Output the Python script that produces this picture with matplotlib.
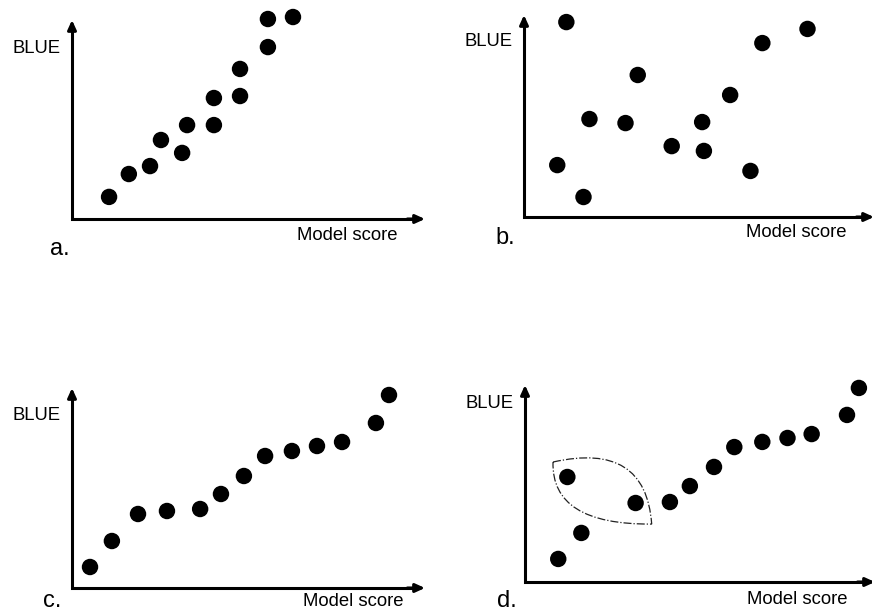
import matplotlib
matplotlib.use("Agg")
import matplotlib.pyplot as plt
from matplotlib.path import Path
from matplotlib.patches import PathPatch

plt.rcParams['font.family'] = ['Liberation Sans', 'DejaVu Sans']

# scores (0-100 = length of each axis arrow)
a_score = [10.5, 16.1, 22.1, 25.2, 31.2, 32.6, 40.2, 40.2, 47.6, 47.6, 55.5, 55.5, 62.6]
a_blue = [11.1, 22.6, 26.6, 39.7, 33.2, 47.2, 47.2, 60.8, 61.8, 75.4, 86.4, 100.5, 101.5]

b_score = [12.1, 81.0, 68.1, 32.5, 58.9, 18.7, 29.0, 50.9, 42.2, 51.4, 9.5, 64.7, 17.0]
b_blue = [96.5, 93.1, 86.1, 70.3, 60.4, 48.5, 46.5, 47.0, 35.1, 32.7, 25.7, 22.8, 9.9]

c_score = [5.1, 11.3, 18.7, 26.9, 36.3, 42.2, 48.7, 54.7, 62.3, 69.4, 76.5, 86.1, 89.8]
c_blue = [10.5, 23.5, 37.0, 38.5, 39.5, 47.0, 56.0, 66.0, 68.5, 71.0, 73.0, 82.5, 96.5]

d_score = [9.5, 16.1, 12.1, 31.6, 41.4, 47.1, 54.0, 59.8, 67.8, 75.0, 81.9, 92.0, 95.4]
d_blue = [11.7, 24.9, 53.3, 40.1, 40.6, 48.7, 58.4, 68.5, 71.1, 73.1, 75.1, 84.8, 98.5]

# outlier ring in panel d: corner, control, corner, control
lens_x = [8.0, 34.5, 36.2, 7.5]
lens_y = [60.9, 71.5, 29.4, 29.0]

panels = ["a.", "b.", "c.", "d."]
xlabel = "Model score"
ylabel = "BLUE"

W, H = 872, 611
# axis origin (px), arrow lengths (px), text offsets (px)
layout = [
    dict(o=(72, 219), w=353, h=199, blue=33, ms=(28, 21), let=(22, 36)),
    dict(o=(524, 217), w=350, h=202, blue=31, ms=(27, 20), let=(29, 27)),
    dict(o=(72, 588), w=353, h=200, blue=32, ms=(22, 18), let=(29, 19)),
    dict(o=(525, 582), w=350, h=197, blue=23, ms=(28, 22), let=(28, 25)),
]

data = [(a_score, a_blue), (b_score, b_blue), (c_score, c_blue), (d_score, d_blue)]

fig = plt.figure(figsize=(W / 100, H / 100), dpi=100)

for i, (xs, ys) in enumerate(data):
    L = layout[i]
    ox, oy = L["o"]
    ax = fig.add_axes([ox / W, 1 - oy / H, L["w"] / W, L["h"] / H])
    ax.set_xlim(0, 100)
    ax.set_ylim(0, 100)
    ax.axis("off")

    # axes as arrows
    ax.plot([0, 0, 97], [97, 0, 0], color="black", lw=2.2,
            solid_joinstyle="miter", solid_capstyle="butt", clip_on=False)
    for tip, tail in [((100, 0), (95, 0)), ((0, 100), (0, 95))]:
        ax.annotate("", xy=tip, xytext=tail,
                    arrowprops=dict(arrowstyle="-|>,head_length=0.55,head_width=0.25",
                                    color="black", lw=2.2, shrinkA=0, shrinkB=0),
                    annotation_clip=False)

    ax.scatter(xs, ys, s=140, c="black", edgecolors="none", clip_on=False, zorder=3)

    ax.annotate(ylabel, xy=(0, 100), xytext=(-12, -L["blue"]), textcoords="offset pixels",
                ha="right", va="baseline", fontsize=13.3)
    ax.annotate(xlabel, xy=(100, 0), xytext=(-L["ms"][0], -L["ms"][1]),
                textcoords="offset pixels", ha="right", va="baseline", fontsize=13.3)
    ax.annotate(panels[i], xy=(0, 0), xytext=(-L["let"][0], -L["let"][1]),
                textcoords="offset pixels", ha="left", va="baseline", fontsize=17)

    if i == 3:
        verts = [(lens_x[0], lens_y[0]), (lens_x[1], lens_y[1]), (lens_x[2], lens_y[2]),
                 (lens_x[3], lens_y[3]), (lens_x[0], lens_y[0])]
        codes = [Path.MOVETO, Path.CURVE3, Path.CURVE3, Path.CURVE3, Path.CURVE3]
        ax.add_patch(PathPatch(Path(verts, codes), fill=False, edgecolor="#222222",
                               lw=0.9, linestyle="-.", clip_on=False))

fig.savefig("out.png", dpi=100)
